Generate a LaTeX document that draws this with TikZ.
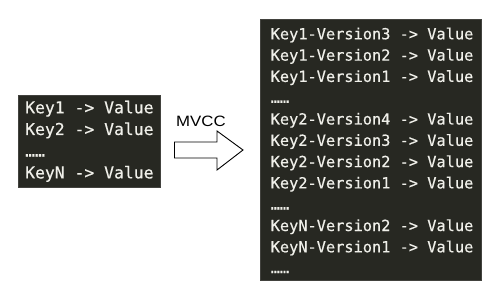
\documentclass[tikz,border=0pt]{standalone}
\usepackage{fontspec}
\setmainfont{Liberation Sans}
\newfontfamily\codefont[FakeBold=0.35]{DejaVu Sans Mono}
\definecolor{editorbg}{HTML}{272822}
\definecolor{editorfg}{HTML}{F0F0EA}
\begin{document}
\begin{tikzpicture}[x=1pt,y=-1pt,
  panel/.style={fill=editorbg,draw=editorbg!70!gray,line width=0.6pt},
  lineL/.style={anchor=base west,inner sep=0pt,text=editorfg,font=\codefont\fontsize{16.4}{18}\selectfont},
  lineR/.style={anchor=base west,inner sep=0pt,text=editorfg,font=\codefont\fontsize{15.3}{18}\selectfont},
  blockarrow/.style={draw=black,line width=0.9pt,fill=white,line join=miter}]
\useasboundingbox (0,0) rectangle (500,294);

% store before MVCC
\path[panel] (18.3,95) rectangle (160,187);
\node[lineL] (l1) at (25,113.3) {Key1 -> Value};
\node[lineL] (l2) at (25,135.0) {Key2 -> Value};
\node[lineL] (l3) at (25,156.5) {……};
\node[lineL] (l4) at (25,178.4) {KeyN -> Value};

% MVCC label and block arrow
\node[anchor=base west,inner sep=0pt,font=\fontsize{15}{18}\selectfont,xscale=1.12] (mvcc) at (176,126.7) {MVCC};
\draw[blockarrow] (174.5,142) -- (217,142) -- (217,131) -- (243,150)
  -- (217,170) -- (217,158) -- (174.5,158) -- cycle;

% versioned store after MVCC
\path[panel] (260.7,19.3) rectangle (481.7,280.7);
\node[lineR] (r1)  at (270.5,39.3)  {Key1-Version3 -> Value};
\node[lineR] (r2)  at (270.5,60.6)  {Key1-Version2 -> Value};
\node[lineR] (r3)  at (270.5,81.9)  {Key1-Version1 -> Value};
\node[lineR] (r4)  at (270.5,102.8) {……};
\node[lineR] (r5)  at (270.5,124.5) {Key2-Version4 -> Value};
\node[lineR] (r6)  at (270.5,145.8) {Key2-Version3 -> Value};
\node[lineR] (r7)  at (270.5,167.1) {Key2-Version2 -> Value};
\node[lineR] (r8)  at (270.5,188.4) {Key2-Version1 -> Value};
\node[lineR] (r9)  at (270.5,209.5) {……};
\node[lineR] (r10) at (270.5,231.0) {KeyN-Version2 -> Value};
\node[lineR] (r11) at (270.5,252.3) {KeyN-Version1 -> Value};
\node[lineR] (r12) at (270.5,273.2) {……};
\end{tikzpicture}
\end{document}
